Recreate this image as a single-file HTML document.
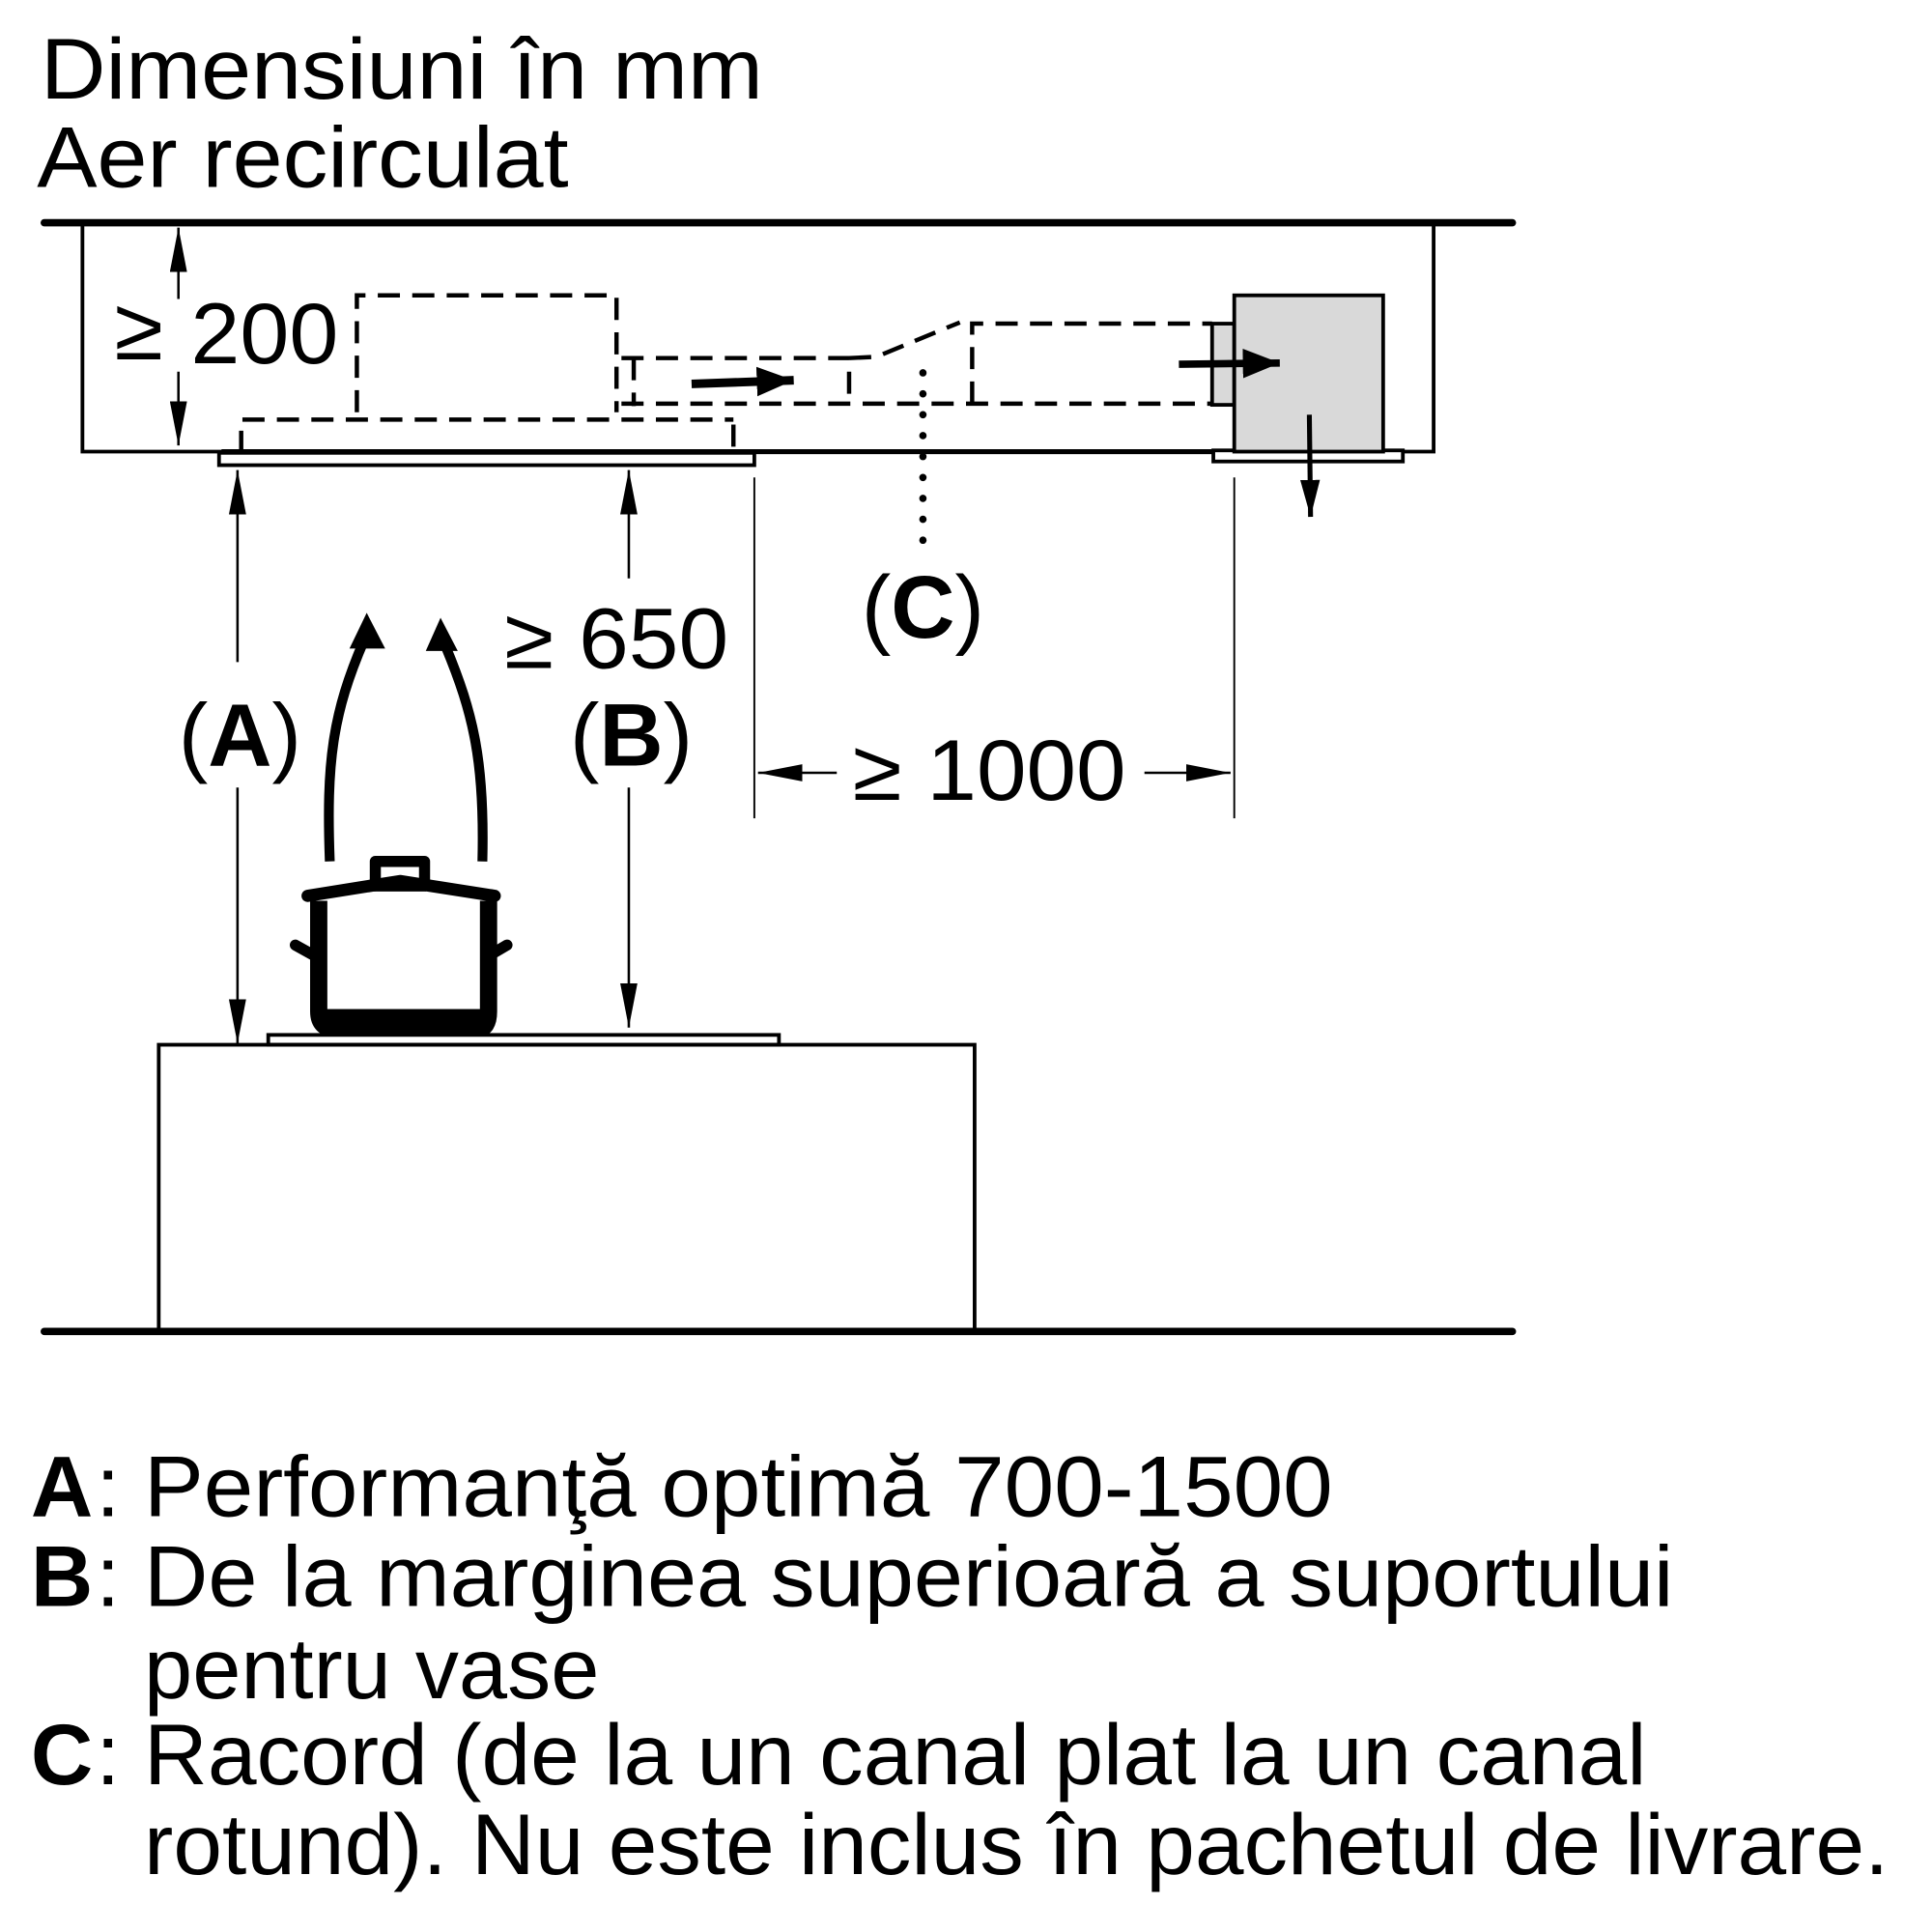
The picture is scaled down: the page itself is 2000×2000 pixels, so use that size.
<!DOCTYPE html>
<html><head><meta charset="utf-8"><style>html,body{margin:0;padding:0;background:#fff}svg{display:block}</style></head>
<body>
<svg width="2000" height="2000" viewBox="0 0 1570 1570" xmlns="http://www.w3.org/2000/svg" font-family="'Liberation Sans', sans-serif">
<defs>
<marker id="ah" viewBox="0 0 36 14" refX="36" refY="7" markerWidth="36" markerHeight="14" markerUnits="userSpaceOnUse" orient="auto"><path d="M0,0 L36,7 L0,14z"/></marker>
<marker id="ahb" viewBox="0 0 30 24" refX="30" refY="12" markerWidth="30" markerHeight="24" markerUnits="userSpaceOnUse" orient="auto"><path d="M0,0 L30,12 L0,24z"/></marker>
<marker id="ahs" viewBox="0 0 30 16" refX="30" refY="8" markerWidth="30" markerHeight="16" markerUnits="userSpaceOnUse" orient="auto"><path d="M0,0 L30,8 L0,16z"/></marker>
</defs>
<g fill="#000">
<text x="33" y="80" font-size="70" textLength="587" lengthAdjust="spacingAndGlyphs">Dimensiuni în mm</text>
<text x="30" y="152" font-size="70" textLength="432" lengthAdjust="spacingAndGlyphs">Aer recirculat</text>
</g>
<line x1="36" y1="181" x2="1229" y2="181" stroke="#000" stroke-width="6" stroke-linecap="round"/>
<polyline points="67,181 67,367 1003,367" fill="none" stroke="#000" stroke-width="3"/>
<line x1="180" y1="367" x2="1003" y2="367" stroke="#000" stroke-width="4"/>
<polyline points="1124,367 1165,367 1165,181" fill="none" stroke="#000" stroke-width="3"/>
<rect x="178" y="368" width="435" height="10" fill="#fff" stroke="#000" stroke-width="3"/>
<rect x="986" y="366" width="154" height="9" fill="#fff" stroke="#000" stroke-width="3"/>
<g fill="none" stroke="#000" stroke-width="3.5" stroke-dasharray="18,10">
<polyline points="290,335 290,240 501,240 501,335"/>
<polyline points="196,368 196,341 596,341"/>
<line x1="596" y1="345" x2="596" y2="367"/>
<polyline points="505,291 690,291 690,327"/>
<line x1="515" y1="291" x2="515" y2="330"/>
<line x1="505" y1="328" x2="985" y2="328"/>
<polyline points="690,291 712,290 780,262"/>
<polyline points="790,328 790,263 985,263"/>
</g>
<line x1="562" y1="312" x2="645" y2="309" stroke="#000" stroke-width="7" marker-end="url(#ahb)"/>
<rect x="985" y="263" width="18" height="66" fill="#d9d9d9" stroke="#000" stroke-width="3"/>
<rect x="1003" y="240" width="121" height="127" fill="#d9d9d9" stroke="#000" stroke-width="3"/>
<line x1="958" y1="296" x2="1040" y2="295" stroke="#000" stroke-width="6" marker-end="url(#ahb)"/>
<line x1="1064" y1="337" x2="1065" y2="420" stroke="#000" stroke-width="4" marker-end="url(#ahs)"/>
<line x1="750" y1="303" x2="750" y2="445" stroke="#000" stroke-width="6" stroke-linecap="round" stroke-dasharray="0,17"/>
<text x="750" y="518" font-size="72" text-anchor="middle"><tspan>(</tspan><tspan font-weight="bold">C</tspan><tspan>)</tspan></text>
<line x1="613" y1="388" x2="613" y2="665" stroke="#000" stroke-width="1.5"/>
<line x1="1003" y1="388" x2="1003" y2="665" stroke="#000" stroke-width="1.5"/>
<line x1="680" y1="628" x2="616" y2="628" stroke="#000" stroke-width="2" marker-end="url(#ah)"/>
<line x1="930" y1="628" x2="1000" y2="628" stroke="#000" stroke-width="2" marker-end="url(#ah)"/>
<text x="693" y="650" font-size="70" textLength="222" lengthAdjust="spacingAndGlyphs">≥ 1000</text>
<line x1="145" y1="243" x2="145" y2="185" stroke="#000" stroke-width="2" marker-end="url(#ah)"/>
<line x1="145" y1="302" x2="145" y2="362" stroke="#000" stroke-width="2" marker-end="url(#ah)"/>
<text x="93" y="292" font-size="72">≥</text>
<text x="155" y="295" font-size="70" textLength="120" lengthAdjust="spacingAndGlyphs">200</text>
<line x1="193" y1="538" x2="193" y2="382" stroke="#000" stroke-width="2" marker-end="url(#ah)"/>
<line x1="193" y1="640" x2="193" y2="848" stroke="#000" stroke-width="2" marker-end="url(#ah)"/>
<text x="195" y="622" font-size="72" text-anchor="middle"><tspan>(</tspan><tspan font-weight="bold">A</tspan><tspan>)</tspan></text>
<line x1="511" y1="470" x2="511" y2="382" stroke="#000" stroke-width="2" marker-end="url(#ah)"/>
<line x1="511" y1="640" x2="511" y2="835" stroke="#000" stroke-width="2" marker-end="url(#ah)"/>
<text x="410" y="543" font-size="70" textLength="182" lengthAdjust="spacingAndGlyphs">≥ 650</text>
<text x="513" y="622" font-size="72" text-anchor="middle"><tspan>(</tspan><tspan font-weight="bold">B</tspan><tspan>)</tspan></text>
<path d="M268,700 C265,620 270,580 296,520" fill="none" stroke="#000" stroke-width="8"/>
<path d="M284,527 L298,498 L313,527z"/>
<path d="M392,700 C394,620 385,580 362,525" fill="none" stroke="#000" stroke-width="8"/>
<path d="M346,529 L358,502 L372,529z"/>
<rect x="305" y="700" width="40" height="20" fill="none" stroke="#000" stroke-width="9" stroke-linejoin="round"/>
<path d="M250,728 L325,716 L402,728" fill="none" stroke="#000" stroke-width="10" stroke-linecap="round" stroke-linejoin="round"/>
<path d="M259,732 L259,822 Q259,836 273,836 L388,836 Q397,836 397,822 L397,732" fill="none" stroke="#000" stroke-width="14"/>
<rect x="262" y="820" width="132" height="16"/>
<path d="M240,768 L258,778 M412,768 L395,778" stroke="#000" stroke-width="9" stroke-linecap="round"/>
<rect x="218" y="841" width="415" height="8" fill="#fff" stroke="#000" stroke-width="3"/>
<rect x="129" y="849" width="663" height="233" fill="none" stroke="#000" stroke-width="3"/>
<line x1="36" y1="1082" x2="1229" y2="1082" stroke="#000" stroke-width="6" stroke-linecap="round"/>
<g font-size="70">
<text x="25" y="1232"><tspan font-weight="bold">A</tspan></text><text x="78" y="1232">:</text>
<text x="117" y="1232" textLength="966" lengthAdjust="spacingAndGlyphs">Performanţă optimă 700-1500</text>
<text x="25" y="1305"><tspan font-weight="bold">B</tspan></text><text x="78" y="1305">:</text>
<text x="117" y="1305" textLength="1243" lengthAdjust="spacingAndGlyphs">De la marginea superioară a suportului</text>
<text x="117" y="1380" textLength="370" lengthAdjust="spacingAndGlyphs">pentru vase</text>
<text x="25" y="1450"><tspan font-weight="bold">C</tspan></text><text x="78" y="1450">:</text>
<text x="117" y="1450" textLength="1221" lengthAdjust="spacingAndGlyphs">Racord (de la un canal plat la un canal</text>
<text x="117" y="1523" textLength="1418" lengthAdjust="spacingAndGlyphs">rotund). Nu este inclus în pachetul de livrare.</text>
</g>
</svg>
</body></html>
